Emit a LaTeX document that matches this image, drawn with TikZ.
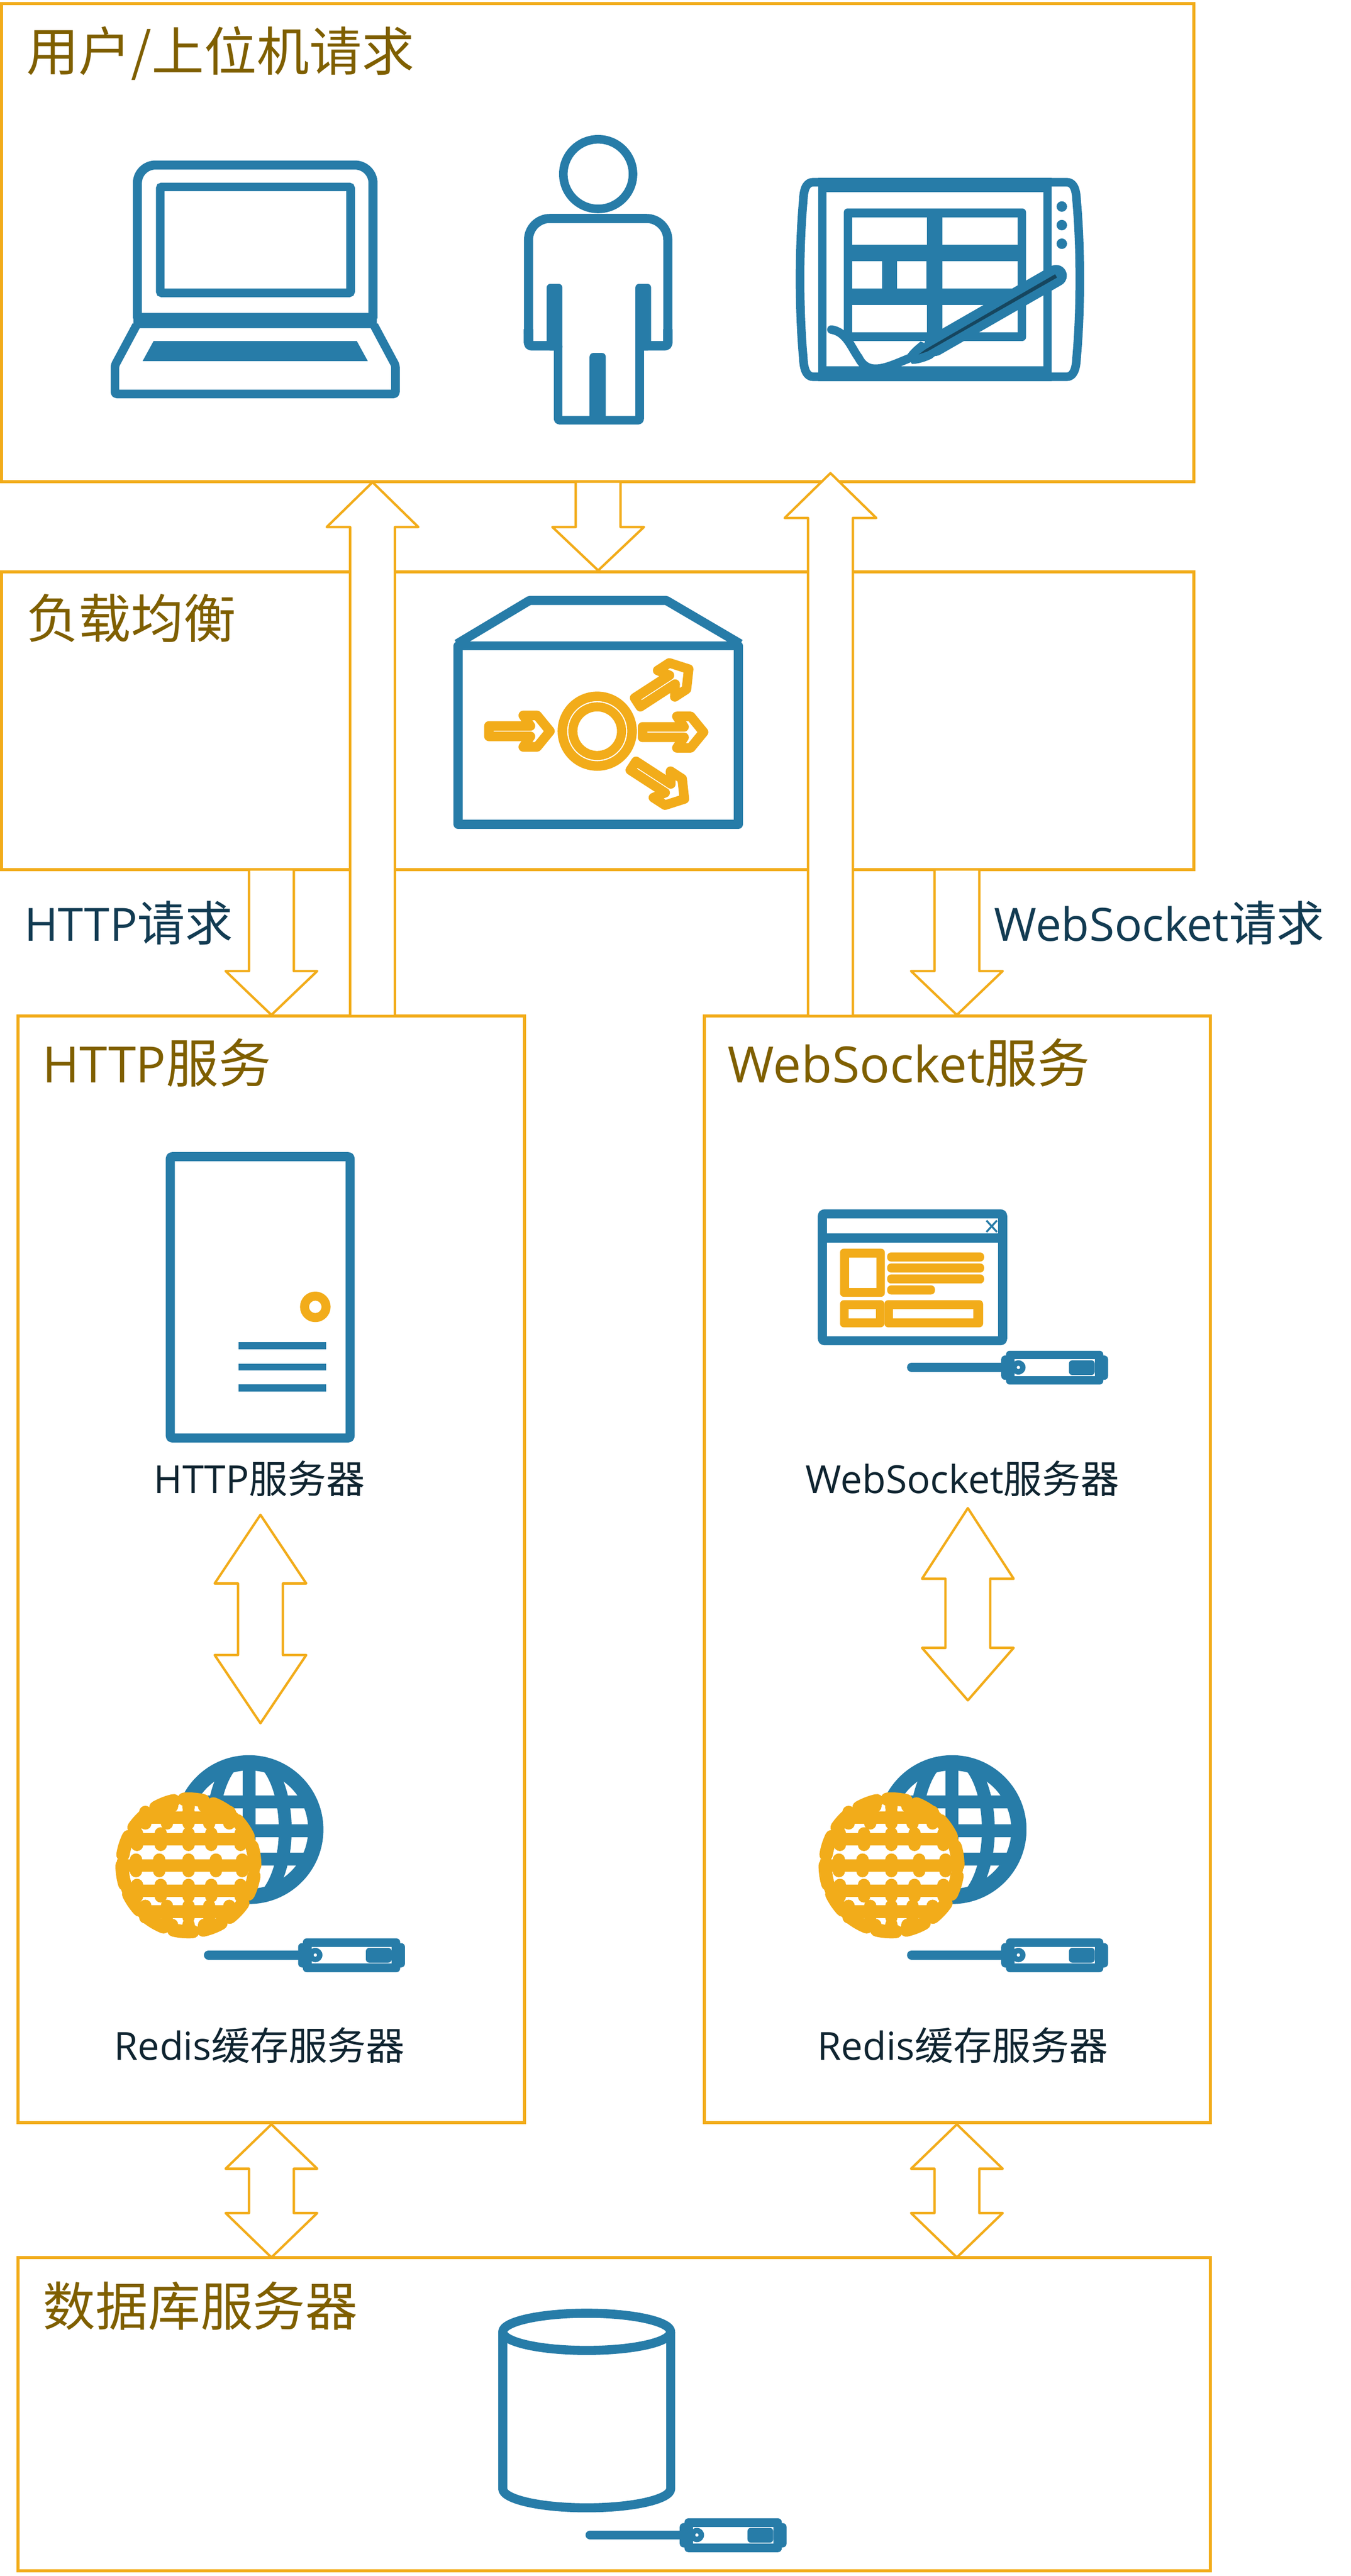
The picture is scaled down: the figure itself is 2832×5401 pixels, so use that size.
\documentclass[tikz,border=0pt]{standalone}
\usepackage{fontspec}
\setmainfont{Open Sans}
\newfontfamily\cj{Noto Sans CJK SC}
\newcommand\tcj{\fontsize{110}{120}\selectfont\cj}
\newcommand\rcj{\fontsize{100}{110}\selectfont\cj}
\definecolor{orng}{HTML}{F2AC1A}
\definecolor{blu}{HTML}{277CA8}
\definecolor{dkb}{HTML}{16465F}
\definecolor{ttl}{HTML}{7F5F00}
\definecolor{req}{HTML}{123B52}
\definecolor{srv}{HTML}{0F2430}
\tikzset{
 panel/.style={draw=orng,line width=6.5pt,fill=white,shape=rectangle,inner sep=0pt,outer sep=0pt,anchor=north west},
 blockarrow/.style={draw=orng,fill=white,line width=5pt,line join=round},
 titletext/.style={anchor=base west,inner sep=0pt,text=ttl,font=\fontsize{105}{120}\selectfont},
 reqtext/.style={anchor=base west,inner sep=0pt,text=req,font=\fontsize{96}{110}\selectfont},
 srvtext/.style={anchor=base,inner sep=0pt,text=srv,font=\fontsize{81}{100}\selectfont},
 ic/.style={draw=blu,line width=19pt,line join=round},
 oc/.style={draw=orng,line width=19pt,line join=round}
}
% block arrows: centre x, then y values
\newcommand\arrUp[4]{\draw[blockarrow] (#1,#2) -- ({#1+96},#3) -- ({#1+47},#3) -- ({#1+47},#4) -- ({#1-47},#4) -- ({#1-47},#3) -- ({#1-96},#3) -- cycle;}
\newcommand\arrDown[4]{\draw[blockarrow] (#1,#2) -- ({#1+96},#3) -- ({#1+47},#3) -- ({#1+47},#4) -- ({#1-47},#4) -- ({#1-47},#3) -- ({#1-96},#3) -- cycle;}
\newcommand\arrBoth[5]{\draw[blockarrow] (#1,#2) -- ({#1+96},#3) -- ({#1+47},#3) -- ({#1+47},#4) -- ({#1+96},#4) -- (#1,#5) -- ({#1-96},#4) -- ({#1-47},#4) -- ({#1-47},#3) -- ({#1-96},#3) -- cycle;}
\newcommand\keyicon[2]{\begin{scope}[shift={(#1,#2)}]
 \draw[blu,line width=19pt,line cap=round] (9,0) -- (197,0);
 \fill[blu,rounded corners=8pt] (207,-35) rectangle (411,36);
 \fill[blu,rounded corners=8pt] (197,-25) rectangle (421,26);
 \fill[white] (225,-17) rectangle (393,18);
 \fill[blu] (233,0) circle (15pt);
 \fill[white] (233,0) circle (3.5pt);
 \fill[blu,rounded corners=7pt] (339,-15) rectangle (393,16);
\end{scope}}
\newcommand\lbarrow[3]{\begin{scope}[shift={(#1,#2)},rotate=#3]
 \draw[draw=orng,line width=20pt,line join=round] (10,-11) -- (97,-11) -- (82,-33) -- (111,-33) -- (138,0) -- (111,33) -- (82,33) -- (97,11) -- (10,11) -- cycle;
\end{scope}}
\newcommand\globes[1]{\begin{scope}[shift={(#1,0)}]
 \fill[blu] (522,3836) circle (156pt);
 \begin{scope}
  \clip (522,3836) circle (150pt);
  \fill[white] (522,3836) circle (124pt);
  \draw[blu,line width=27pt] (522,3836) ellipse (76pt and 156pt);
  \draw[blu,line width=27pt] (522,3680) -- (522,3992);
  \foreach \yy in {3778,3838,3898} {\draw[blu,line width=27pt] (360,\yy) -- (690,\yy);}
 \end{scope}
 \fill[white] (395,3911) circle (146pt);
 \begin{scope}
  \clip (395,3911) circle (150pt);
  \foreach \yy in {3811,3856,3911,3964,4008} {\draw[orng,line width=26pt] (240,\yy) -- (550,\yy);}
 \end{scope}
 \draw[orng,line width=28pt,line cap=round,dash pattern=on 40pt off 22.4pt] (395,3911) circle (139pt);
 \begin{scope}[orng,line width=26pt,line cap=round]
  \foreach \yy/\xa/\xb/\xc/\xd/\xe in {3811/305/350/395/439/481,3856/287/337/395/443/504,3911/285/334/395/453/508,3964/287/337/395/443/504,4008/305/350/395/439/481} {
   \draw (\xa,\yy-12) -- (\xa,\yy+12);
   \draw (\xb,\yy-12) -- (\xb,\yy+12);
   \draw (\xc,\yy-12) -- (\xc,\yy+12);
   \draw (\xd,\yy-12) -- (\xd,\yy+12);
   \draw (\xe,\yy-12) -- (\xe,\yy+12);
  }
  \draw (395,3775) -- (395,3790);
  \draw (395,4035) -- (395,4048);
  \draw (361,3785) -- (361,3787);
  \draw (428,3785) -- (428,3787);
  \draw (361,4036) -- (361,4038);
  \draw (428,4036) -- (428,4038);
 \end{scope}
 \keyicon{428}{4099}
\end{scope}}
\begin{document}
\begin{tikzpicture}[x=1pt,y=-1pt]
\useasboundingbox (0,0) rectangle (2832,5401);
\fill[white] (0,0) rectangle (2832,5401);
% panels
\node[panel,minimum width=2500pt,minimum height=1002pt] (userbox) at (3,8) {};
\node[panel,minimum width=2500pt,minimum height=624pt] (lbbox) at (3,1199) {};
\node[panel,minimum width=1062pt,minimum height=2320pt] (httpbox) at (38,2130) {};
\node[panel,minimum width=1060pt,minimum height=2320pt] (wsbox) at (1477,2130) {};
\node[panel,minimum width=2499pt,minimum height=657pt] (dbbox) at (38,4733) {};
% block arrows
\arrUp{781}{1011}{1105}{2130}
\arrDown{1254}{1196}{1105}{1010}
\arrUp{1741}{992}{1086}{2130}
\arrDown{569}{2128}{2036}{1823}
\arrDown{2006}{2128}{2036}{1823}
\arrBoth{546}{3176}{3320}{3470}{3613}
\arrBoth{2029}{3162}{3310}{3455}{3565}
\arrBoth{569}{4454}{4547}{4640}{4733}
\arrBoth{2006}{4454}{4547}{4640}{4733}
% titles
\node[titletext] (t1) at (55,149) {\tcj 用户/上位机请求};
\node[titletext] (t2) at (55,1338) {\tcj 负载均衡};
\node[titletext] (t3) at (89,2270) {HTTP{\tcj 服务}};
\node[titletext] (t4) at (1526,2270) {WebSocket{\tcj 服务}};
\node[titletext] (t5) at (90,4877) {\tcj 数据库服务器};
\node[reqtext] (r1) at (51,1973) {HTTP{\rcj 请求}};
\node[reqtext] (r2) at (2084,1973) {WebSocket{\rcj 请求}};
\node[srvtext] (s1) at (544,3131) {HTTP{\cj 服务器}};
\node[srvtext] (s2) at (2018,3131) {WebSocket{\cj 服务器}};
\node[srvtext] (s3) at (544,4319) {Redis{\cj 缓存服务器}};
\node[srvtext] (s4) at (2018,4319) {Redis{\cj 缓存服务器}};
% laptop
\draw[ic,rounded corners=38pt] (288,668) -- (288,346) -- (782,346) -- (782,668);
\fill[blu,rounded corners=6pt] (280,656) rectangle (790,688);
\draw[blu,line width=18pt,rounded corners=3pt] (336,392) rectangle (735,614);
\draw[ic,line width=18pt,rounded corners=4pt] (286,682) -- (241,766) -- (241,826) -- (829,826) -- (829,766) -- (784,682);
\fill[blu] (322,715) -- (748,715) -- (771,757) -- (299,757) -- cycle;
% person
\draw[ic,line width=18pt] (1254,365) circle (73pt);
\draw[ic,rounded corners=45pt] (1108,700) -- (1108,458) -- (1400,458) -- (1400,700);
\draw[ic,line width=20pt,rounded corners=6pt] (1108,690) -- (1108,725) -- (1163,725);
\draw[ic,line width=20pt,rounded corners=6pt] (1400,690) -- (1400,725) -- (1348,725);
\fill[blu,rounded corners=8pt] (1146,595) rectangle (1179,735);
\fill[blu,rounded corners=8pt] (1332,595) rectangle (1365,735);
\draw[ic,line width=18pt,rounded corners=3pt] (1170,725) -- (1170,881) -- (1341,881) -- (1341,725);
\fill[blu,rounded corners=8pt] (1236,740) rectangle (1270,890);
% tablet
\draw[ic,line width=18pt,line join=round] (1705,382) -- (2236,382) .. controls (2250,382) and (2256,395) .. (2257,420) .. controls (2266,520) and (2266,650) .. (2257,750) .. controls (2256,775) and (2250,790) .. (2236,790) -- (1705,790) .. controls (1691,790) and (1685,775) .. (1684,750) .. controls (1675,650) and (1675,520) .. (1684,420) .. controls (1685,395) and (1691,382) .. (1705,382) -- cycle;
\fill[blu] (1715,373) rectangle (2205,403);
\fill[blu] (1715,768) rectangle (2205,799);
\fill[blu] (1715,373) rectangle (1733,799);
\fill[blu] (2187,373) rectangle (2205,799);
\foreach \dy in {433,472,511} {\fill[blu] (2226,\dy) circle (11pt);}
\fill[blu,rounded corners=8pt] (1769,437) rectangle (2151,715);
\foreach \xa/\xb/\ya/\yb in {1787/1943/456/513,1976/2133/456/513,1787/1849/548/605,1881/1942/548/605,1976/2133/548/605,1787/1943/639/697,1976/2133/639/697} {\fill[white] (\xa,\ya) rectangle (\xb,\yb);}
\draw[blu,line width=18pt,line cap=round] (1743,691) .. controls (1775,696) and (1785,730) .. (1800,750) .. controls (1820,790) and (1860,770) .. (1904,752);
\draw[blu,line width=45pt,line cap=round] (1960,724) -- (2214,578);
\fill[blu] (1930,716) .. controls (1915,728) and (1905,738) .. (1900,747) -- (1912,763) .. controls (1925,763) and (1940,758) .. (1953,752) -- (1975,735) -- cycle;
\fill[dkb] (1926,743) -- (1941,732) -- (2212,575) -- (2216,582) -- (1944,737) -- cycle;
% load-balancer
\draw[ic] (960,1354) rectangle (1548,1728);
\draw[ic] (958,1350) -- (1110,1259) -- (1397,1259) -- (1552,1350);
\draw[oc,line width=20pt] (1252,1533) circle (73pt);
\draw[oc] (1252,1533) circle (51pt);
\lbarrow{1015}{1533}{0}
\lbarrow{1337}{1535}{0}
\lbarrow{1328}{1478}{33}
\lbarrow{1319}{1600}{-33}
% http server
\draw[ic,rounded corners=4pt] (357,2425) rectangle (734,3015);
\draw[oc] (661,2740) circle (22.5pt);
\fill[blu] (500,2814) rectangle (684,2829);
\fill[blu] (500,2859) rectangle (684,2873);
\fill[blu] (500,2903) rectangle (684,2918);
% websocket server
\draw[ic,rounded corners=4pt] (1724,2545) rectangle (2102,2811);
\fill[blu] (1715,2586) rectangle (2111,2605);
\draw[blu,line width=4pt] (2068,2559) -- (2090,2583) (2090,2559) -- (2068,2583);
\fill[orng,rounded corners=8pt] (1761,2618) rectangle (1855,2719);
\fill[white] (1780,2637) rectangle (1837,2701);
\foreach \ya/\yb in {2626/2645,2649/2668,2672/2691} {\fill[orng,rounded corners=8pt] (1860,\ya) rectangle (2063,\yb);}
\fill[orng,rounded corners=8pt] (1860,2695) rectangle (1960,2714);
\fill[orng,rounded corners=8pt] (1761,2726) rectangle (1854,2783);
\fill[white] (1779,2745) rectangle (1836,2764);
\fill[orng,rounded corners=8pt] (1854,2726) rectangle (2061,2783);
\fill[white] (1872,2745) rectangle (2041,2764);
\keyicon{1902}{2867}
% redis
\globes{0}
\globes{1474}
% database
\draw[ic] (1054,4889) -- (1054,5218) arc [start angle=180,end angle=360,x radius=176pt,y radius=40pt] -- (1406,4889);
\draw[ic] (1230,4889) ellipse (176pt and 39pt);
\keyicon{1228}{5315}
\end{tikzpicture}
\end{document}
